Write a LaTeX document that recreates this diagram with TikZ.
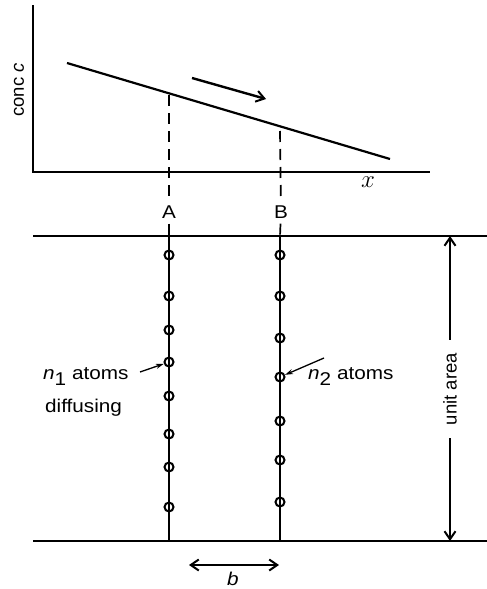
\documentclass[tikz,border=0pt]{standalone}
\usepackage{fontspec}
\setmainfont{Liberation Sans}
\newfontfamily\widefont[FakeStretch=1.12]{Liberation Sans}
\usetikzlibrary{arrows.meta}
\begin{document}
\begin{tikzpicture}[x=1pt,y=-1pt,
  thickline/.style={line width=2.2pt},
  dashline/.style={line width=1.7pt, dash pattern=on 11pt off 7pt},
  atom/.style={circle, draw, line width=2pt, minimum size=9pt, inner sep=0pt},
  barb/.style={-{Straight Barb[length=8pt,width=11pt,line width=2pt]}},
  dbarb/.style={{Straight Barb[length=8pt,width=11pt,line width=2pt]}-{Straight Barb[length=8pt,width=11pt,line width=2pt]}},
  pointer/.style={-{Stealth[length=8pt,width=5pt]}, line width=1.3pt},
  txt/.style={font=\widefont\fontsize{18.5}{20}\selectfont, inner sep=0pt},
  rtxt/.style={font=\fontsize{18.5}{20}\selectfont, inner sep=0pt, rotate=90}]
\useasboundingbox (0,0) rectangle (487,589);

% axes
\coordinate (yTop) at (33,5);
\coordinate (O) at (33,172);
\coordinate (xEnd) at (430,172);
\draw[thickline] (yTop) -- (O) -- (xEnd);
\node[rtxt] (conc) at (19,90) {conc \textit{c}};
\node[inner sep=0pt, font=\fontsize{26}{26}\selectfont] (xlab) at (368,182) {$x$};

% concentration line
\coordinate (c1) at (67,63);
\coordinate (c2) at (390,159);
\draw[thickline] (c1) -- (c2);
\coordinate (pA) at (169,95);
\coordinate (pB) at (280,131);

% flow arrow
\coordinate (f1) at (192,78);
\coordinate (f2) at (266,99);
\draw[line width=2.4pt, barb] (f1) -- (f2);

% planes
\coordinate (tL) at (33,236);
\coordinate (tR) at (487,236);
\coordinate (bL) at (33,541);
\coordinate (bR) at (487,541);
\draw[thickline] (tL) -- (tR);
\draw[thickline] (bL) -- (bR);

\coordinate (tA) at (169,236);
\coordinate (bA) at (169,541);
\coordinate (tB) at (280,236);
\coordinate (bB) at (280,541);
\draw[thickline] (tA) -- (bA);
\draw[thickline] (tB) -- (bB);

% labels A, B and dashed projections
\node[txt, inner sep=5pt] (labA) at (169,212) {A};
\node[txt, inner sep=5pt] (labB) at (281,212) {B};
\draw[dashline] (pA) -- (labA);
\draw[dashline] (labA) -- (tA);
\draw[dashline] (pB) -- (labB);
\draw[dashline] (labB) -- (tB);

% atoms on plane A
\foreach \y [count=\i] in {255,296,330,362,396,434,467,507}
  \node[atom] (a\i) at (169,\y) {};
% atoms on plane B
\foreach \y [count=\i] in {255,296,338,377,421,460,502}
  \node[atom] (b\i) at (280,\y) {};

% n1 label
\node[txt, anchor=west] (n1) at (43,377) {\textit{n}\raisebox{-6pt}{1} atoms};
\node[txt, anchor=west] (diff) at (45,408) {diffusing};
\coordinate (n1t) at (140,372);
\draw[pointer] (n1t) -- (a4);

% n2 label
\node[txt, anchor=west] (n2) at (308,377) {\textit{n}\raisebox{-6pt}{2} atoms};
\coordinate (n2t) at (324,358);
\draw[pointer] (n2t) -- (b4);

% unit area
\coordinate (uT) at (450,236);
\coordinate (uB) at (450,541);
\node[rtxt, inner xsep=13pt] (ua) at (450,389) {unit area};
\draw[line width=1.7pt, barb] (ua) -- (uT);
\draw[line width=1.7pt, barb] (ua) -- (uB);

% b spacing
\coordinate (sL) at (189,565);
\coordinate (sR) at (279,565);
\draw[line width=2pt, dbarb] (sL) -- (sR);
\node[txt] (blab) at (233,579) {\textit{b}};
\end{tikzpicture}
\end{document}
